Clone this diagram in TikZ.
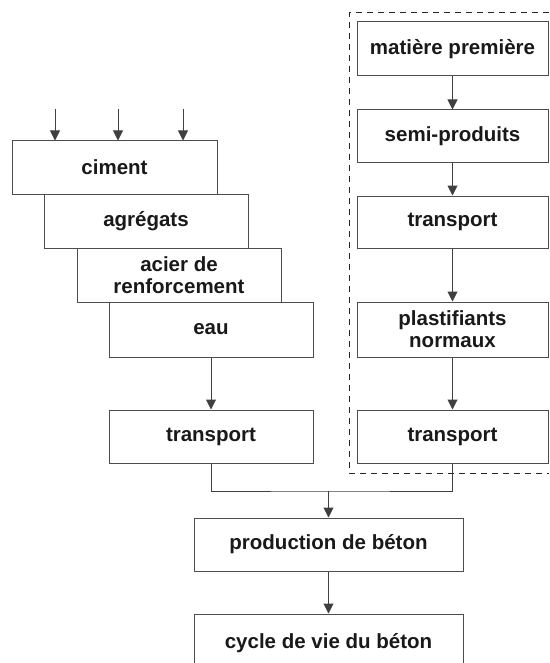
\documentclass[tikz,border=0pt]{standalone}
\usepackage{fontspec}
\setmainfont{Liberation Sans}
\usetikzlibrary{arrows.meta}
\tikzset{
  box/.style={draw=black!70, line width=1pt, inner sep=0pt, align=center,
    text=black!90, font=\bfseries\fontsize{20.5}{22}\selectfont,
    minimum width=204pt, minimum height=54pt},
  rbox/.style={box, minimum width=191pt},
  wbox/.style={box, minimum width=269pt},
  conn/.style={draw=black!75, line width=1pt},
  arr/.style={conn, -{Triangle[width=10pt,length=10pt]}},
  frame/.style={draw=black!85, line width=1pt, dash pattern=on 6pt off 5pt}
}
\begin{document}
\begin{tikzpicture}[x=1pt,y=-1pt]
\useasboundingbox[fill=white] (0,0) rectangle (549,663);
% left stack
\node[box, minimum width=205pt, minimum height=53pt] (ciment) at (114.5,167.5) {ciment};
\node[box] (agregats) at (146,221) {agrégats};
\node[box] (acier) at (179,275) {acier de\\renforcement};
\node[box, minimum height=55pt] (eau) at (211,329.5) {eau};
\node[box, minimum height=53pt] (transL) at (211,436.5) {transport};
% bottom
\node[wbox, minimum height=53pt] (prod) at (328.5,544.5) {production de béton};
\node[wbox, minimum height=58pt] (cycle) at (328.5,643) {cycle de vie du béton};
% right column
\node[rbox] (mat) at (452.5,49) {matière première};
\node[rbox, minimum height=53pt] (semi) at (452.5,136.5) {semi-produits};
\node[rbox, minimum height=52pt] (transR1) at (452.5,222) {transport};
\node[rbox, minimum height=55pt] (plast) at (452.5,329.5) {plastifiants\\normaux};
\node[rbox, minimum height=53pt] (transR2) at (452.5,436.5) {transport};
% dashed frame (right side lies outside the picture)
\coordinate (f1) at (549,13);
\coordinate (f2) at (349,13);
\coordinate (f3) at (349,473);
\coordinate (f4) at (549,473);
\draw[frame] (f1) -- (f2) -- (f3) -- (f4);
% input arrows
\coordinate (in1) at (55,109);
\coordinate (in2) at (118,109);
\coordinate (in3) at (183,109);
\draw[arr] (in1) -- (in1 |- ciment.north);
\draw[arr] (in2) -- (in2 |- ciment.north);
\draw[arr] (in3) -- (in3 |- ciment.north);
% flows
\draw[arr] (eau.south) -- (transL.north);
\draw[arr] (mat) -- (semi);
\draw[arr] (semi) -- (transR1);
\draw[arr] (transR1) -- (plast);
\draw[arr] (plast) -- (transR2);
\coordinate (j) at (328.5,491);
\draw[conn] (transL.south) |- (j) -| (transR2.south);
\draw[arr] (j) -- (prod.north);
\draw[arr] (prod) -- (cycle);
\end{tikzpicture}
\end{document}
